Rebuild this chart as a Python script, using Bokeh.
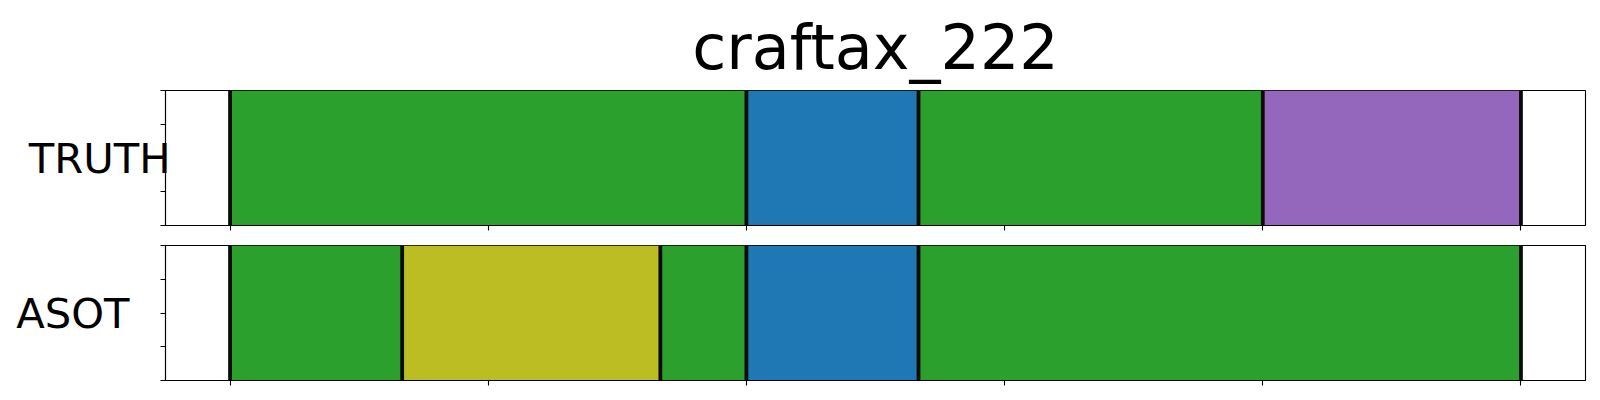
from bokeh.plotting import figure
from bokeh.models import Range1d, Span, FixedTicker, ColumnDataSource, Title
from bokeh.layouts import column
from bokeh.embed import file_html
from bokeh.resources import INLINE

# ---- data ----
title_text = "craftax_222"
row_names = ["TRUTH", "ASOT"]
seq_length = 150
x_ticks = [0, 30, 60, 90, 120, 150]
y_ticks = [0, 0.25, 0.5, 0.75, 1.0]

truth_starts = [0, 60, 80, 120]
truth_ends = [60, 80, 120, 150]
truth_classes = ["green", "blue", "green", "purple"]

asot_starts = [0, 20, 50, 60, 80]
asot_ends = [20, 50, 60, 80, 150]
asot_classes = ["green", "olive", "green", "blue", "green"]

class_colors = {"green": "#2ca02c", "blue": "#1f77b4",
                "purple": "#9467bd", "olive": "#bcbd22"}

FONT = "DejaVu Sans"
W = 1592
FRAME_H = 135


def make_panel(name, starts, ends, classes, top_border, bottom_border, label_standoff):
    pad = 0.05 * seq_length
    p = figure(width=W, height=top_border + FRAME_H + bottom_border,
               x_range=Range1d(-pad, seq_length + pad), y_range=Range1d(0, 1),
               output_backend="svg", toolbar_location=None,
               min_border_left=165, min_border_right=7,
               min_border_top=top_border, min_border_bottom=bottom_border)
    p.grid.visible = False
    p.outline_line_color = "black"
    p.outline_line_width = 1.1
    p.background_fill_color = "white"
    p.border_fill_color = "white"

    src = ColumnDataSource(dict(left=starts, right=ends,
                                color=[class_colors[c] for c in classes]))
    p.quad(left="left", right="right", bottom=0, top=1, fill_color="color",
           line_color=None, source=src)

    bounds = sorted(set(starts) | set(ends))
    for b in bounds:
        p.add_layout(Span(location=b, dimension="height", line_color="#0a0a0a",
                          line_width=3.8))

    for ax, ticks in ((p.xaxis[0], x_ticks), (p.yaxis[0], y_ticks)):
        ax.ticker = FixedTicker(ticks=ticks)
        ax.minor_tick_line_color = None
        ax.major_tick_in = 0
        ax.major_tick_out = 5
        ax.major_tick_line_color = "black"
        ax.major_tick_line_width = 1.1
        ax.axis_line_color = "black"
        ax.axis_line_width = 1.1
        ax.major_label_text_color = None
        ax.major_label_standoff = 0

    ya = p.yaxis[0]
    ya.axis_label = name
    ya.axis_label_orientation = "horizontal"
    ya.axis_label_text_font = FONT
    ya.axis_label_text_font_size = "41.7px"
    ya.axis_label_text_font_style = "normal"
    ya.axis_label_text_color = "black"
    ya.axis_label_standoff = label_standoff
    return p


p1 = make_panel(row_names[0], truth_starts, truth_ends, truth_classes, 90, 10, -10)
p2 = make_panel(row_names[1], asot_starts, asot_ends, asot_classes, 10, 12, 31)

p1.title = Title(text=title_text, align="center", text_font=FONT,
                 text_font_size="62px", text_font_style="normal",
                 text_color="black", standoff=14)

layout = column(p1, p2, spacing=0)
open("out.html", "w").write(file_html(layout, INLINE))
